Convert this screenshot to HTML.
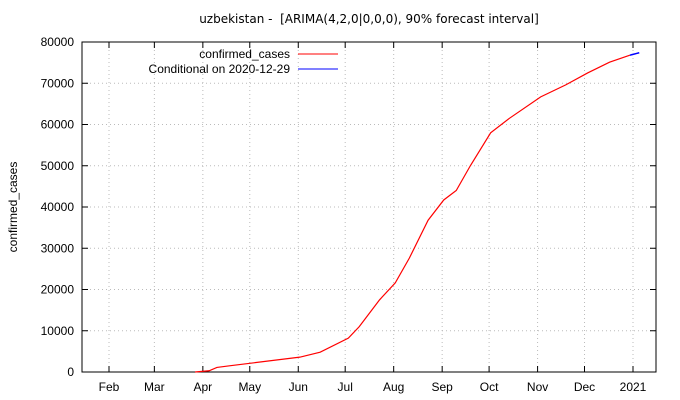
<!DOCTYPE html>
<html><head><meta charset="utf-8"><style>
body{margin:0;background:#fff;}
svg{display:block;font-family:"Liberation Sans",sans-serif;}
</style></head><body>
<svg id="c" width="680" height="400"></svg>
<script>
const days=[86,95,100,108,123,153,166,184,191,204,214,223,235,245,253,262,275,287,307,323,337,351,364];
const cases=[0,300,1100,1500,2200,3600,4800,8200,11000,17500,21600,27600,36800,41700,44000,50000,58000,61500,66700,69600,72500,75100,76800];
const fcDays=[364,366,368,370];
const fcVals=[76800,77000,77200,77400];
const yTicks=[0,10000,20000,30000,40000,50000,60000,70000,80000];
const monthLabels=["Feb","Mar","Apr","May","Jun","Jul","Aug","Sep","Oct","Nov","Dec","2021"];
const monthDays=[31,60,91,121,152,182,213,244,274,305,335,366];
const L=82,R=656,T=42,B=372;
const xs=d=>109+(d-31)*(633-109)/(366-31);
const ys=v=>B-(v/80000)*(B-T);
const NS="http://www.w3.org/2000/svg",svg=document.getElementById('c');
function mk(t,a,p){const e=document.createElementNS(NS,t);for(const k in a)e.setAttribute(k,a[k]);(p||svg).appendChild(e);return e;}
yTicks.forEach(v=>{const y=ys(v);
 if(v>0&&v<80000){const g=mk('line',{x1:L,x2:R,y1:y,y2:y,stroke:'#bbb','stroke-dasharray':'1,3'});}
 mk('line',{x1:L,x2:L+6,y1:y,y2:y,stroke:'#000'});mk('line',{x1:R,x2:R-6,y1:y,y2:y,stroke:'#000'});
 const t=mk('text',{x:L-8,y:y+4,'text-anchor':'end','font-size':12});t.textContent=v;
 });
monthDays.forEach((d,i)=>{const x=xs(d);
 const g=mk('line',{x1:x,x2:x,y1:T,y2:B,stroke:'#bbb','stroke-dasharray':'1,3'});
 mk('line',{x1:x,x2:x,y1:B,y2:B-6,stroke:'#000'});mk('line',{x1:x,x2:x,y1:T,y2:T+6,stroke:'#000'});
 const t=mk('text',{x:x,y:B+19,'text-anchor':'middle','font-size':12});t.textContent=monthLabels[i];
 });
const fr=mk('rect',{x:L,y:T,width:R-L,height:B-T,fill:'none',stroke:'#000'});

const l1=mk('polyline',{points:days.map((d,i)=>xs(d)+','+ys(cases[i])).join(' '),fill:'none',stroke:'#f00','stroke-width':1.2});

const l2=mk('polyline',{points:fcDays.map((d,i)=>xs(d)+','+ys(fcVals[i])).join(' '),fill:'none',stroke:'#00f','stroke-width':1.5});

const tt=mk('text',{x:369,y:23,'text-anchor':'middle','font-size':12,'font-family':'DejaVu Sans, sans-serif'});tt.textContent='uzbekistan - \u00a0[ARIMA(4,2,0|0,0,0), 90% forecast interval]';

const yt=mk('text',{x:17,y:207,'text-anchor':'middle','font-size':12,transform:'rotate(-90 17 207)'});yt.textContent='confirmed_cases';

const lg1=mk('text',{x:290,y:58,'text-anchor':'end','font-size':12});lg1.textContent='confirmed_cases';

mk('line',{x1:298,x2:338,y1:54,y2:54,stroke:'#f00'});
const lg2=mk('text',{x:290,y:73,'text-anchor':'end','font-size':12});lg2.textContent='Conditional on 2020-12-29';

mk('line',{x1:298,x2:338,y1:69,y2:69,stroke:'#00f'});
</script>
</body></html>
